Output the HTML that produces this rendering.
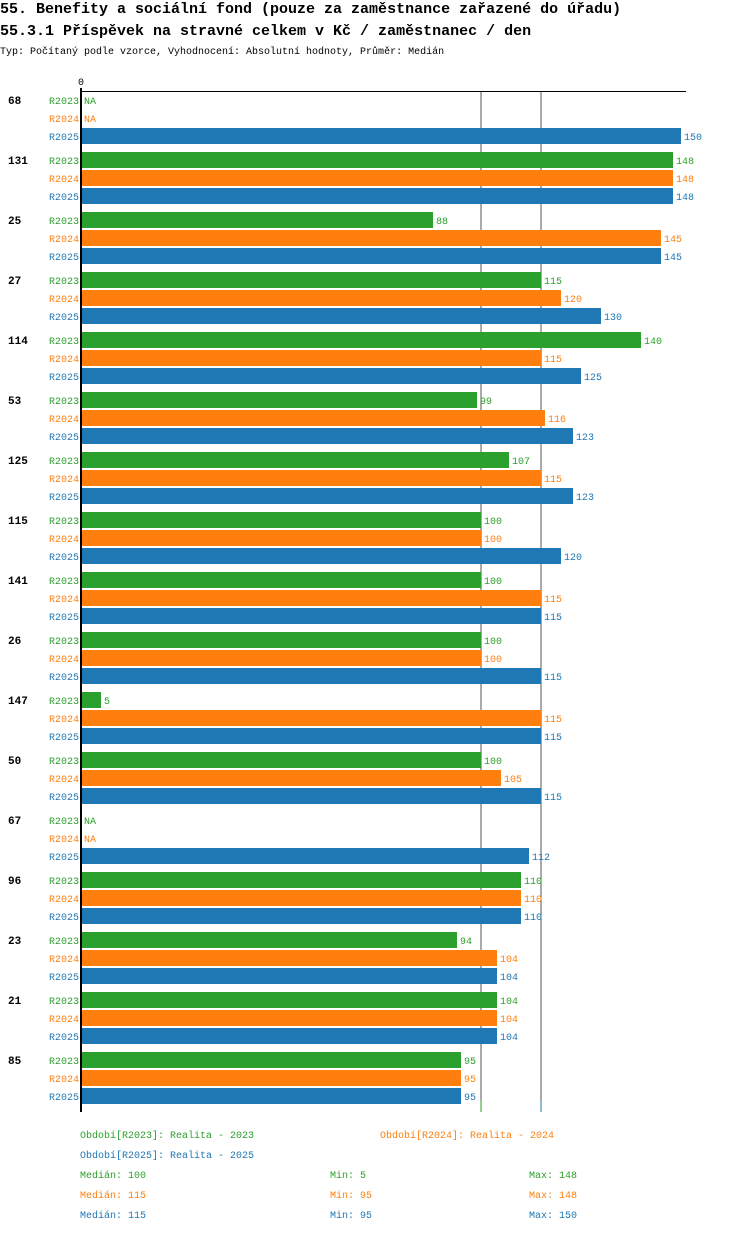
<!DOCTYPE html>
<html><head><meta charset="utf-8"><style>
body{margin:0;background:#fff;width:750px;height:1232px;overflow:hidden;font-family:"Liberation Mono",monospace}
svg text{font-family:"Liberation Mono",monospace}
</style></head><body>
<svg id="c" width="750" height="1232" xmlns="http://www.w3.org/2000/svg">
<text x="0" y="13" font-size="15" font-weight="bold">55. Benefity a sociální fond (pouze za zaměstnance zařazené do úřadu)</text>
<text x="0" y="35" font-size="15" font-weight="bold">55.3.1 Příspěvek na stravné celkem v Kč / zaměstnanec / den</text>
<text x="0" y="54" font-size="10">Typ: Počítaný podle vzorce, Vyhodnocení: Absolutní hodnoty, Průměr: Medián</text>
</svg>
<script>
const categories=["68","131","25","27","114","53","125","115","141","26","147","50","67","96","23","21","85"];
const seriesNames=["R2023","R2024","R2025"];
const r2023=[null,148,88,115,140,99,107,100,100,100,5,100,null,110,94,104,95];
const r2024=[null,148,145,120,115,116,115,100,115,100,115,105,null,110,104,104,95];
const r2025=[150,148,145,130,125,123,123,120,115,115,115,115,112,110,104,104,95];
const medians=[100,115,115];
const mins=[5,95,95];
const maxs=[148,148,150];
const colors=["#2ca02c","#ff7f0e","#1f77b4"];
const svg=document.getElementById('c');
const NS="http://www.w3.org/2000/svg";
const x0=82,scale=4;
const xs=v=>x0+v*scale;
const yc=(g,s)=>100+g*60+s*18;
function el(t,a,txt){const e=document.createElementNS(NS,t);for(const k in a)e.setAttribute(k,a[k]);if(txt!==undefined)e.textContent=txt;svg.appendChild(e);return e;}
[medians[0],medians[2]].forEach((m,i)=>{
 const l=el('line',{x1:xs(m)-1,x2:xs(m)-1,y1:91,y2:1112,stroke:i?'#1f77b4':'#2ca02c','stroke-width':1});
 
 
 const l2=el('line',{x1:xs(m)-1,x2:xs(m)-1,y1:91,y2:1100,stroke:'#555','stroke-width':1});
 
 
});
const data=[r2023,r2024,r2025];
categories.forEach((c,g)=>{
 const t=el('text',{x:8,y:yc(g,0)+4,'font-size':11,'font-weight':'bold'},c);
 
 
 for(let s=0;s<3;s++){
  const y=yc(g,s),v=data[s][g];
  const lt=el('text',{x:79,y:y+4,'font-size':10,fill:colors[s],'text-anchor':'end'},seriesNames[s]);
  
  
  if(v===null){
   const na=el('text',{x:84,y:y+4,'font-size':10,fill:colors[s]},'NA');
   
   
   continue;
  }
  const b=el('rect',{x:x0,y:y-8,width:v*scale-1,height:16,fill:colors[s]});
  
  
  const vt=el('text',{x:xs(v)+2,y:y+4,'font-size':10,fill:colors[s]},String(v));
  
  
 }
});
const ax=el('line',{x1:80,x2:686,y1:91.5,y2:91.5,stroke:'#000','stroke-width':1});


const ay=el('line',{x1:81,x2:81,y1:88,y2:1112,stroke:'#000','stroke-width':2});


const z=el('text',{x:81,y:85,'font-size':10,'text-anchor':'middle'},'0');


const leg=[[80,1138,0,'Období[R2023]: Realita - 2023'],[380,1138,1,'Období[R2024]: Realita - 2024'],[80,1158,2,'Období[R2025]: Realita - 2025']];
leg.forEach(l=>{const e=el('text',{x:l[0],y:l[1],'font-size':10,fill:colors[l[2]]},l[3]);
 
 });
for(let s=0;s<3;s++){
 const y=1178+s*20;
 const a=el('text',{x:80,y:y,'font-size':10,fill:colors[s]},'Medián: '+medians[s]);
 
 
 const b=el('text',{x:330,y:y,'font-size':10,fill:colors[s]},'Min: '+mins[s]);
 
 
 const d=el('text',{x:529,y:y,'font-size':10,fill:colors[s]},'Max: '+maxs[s]);
 
 
}
</script>
</body></html>
